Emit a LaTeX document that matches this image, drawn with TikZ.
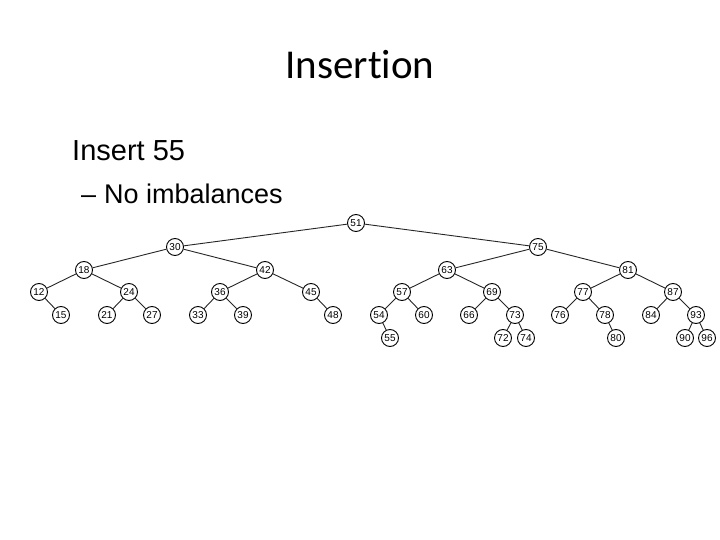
\documentclass[tikz,border=0pt]{standalone}
\usepackage{fontspec}
\setmainfont{Liberation Sans}
\newfontfamily\titlefont[Ligatures=NoCommon]{Carlito}
\begin{document}
\begin{tikzpicture}[x=1pt,y=-1pt,
  tn/.style={circle,draw=black,line width=0.9pt,fill=white,minimum size=17pt,inner sep=0pt,font=\fontsize{10}{10}\selectfont},
  ed/.style={draw=black!85,line width=0.9pt}]
\useasboundingbox[fill=white] (0,0) rectangle (720,540);
\node[anchor=base,font=\titlefont\fontsize{41}{41}\selectfont] (title) at (360,79) {Insertion};
\node[anchor=base west,inner sep=0pt,font=\fontsize{29}{29}\selectfont] (l1) at (72,161) {Insert 55};
\node[anchor=base west,inner sep=0pt,font=\fontsize{27}{27}\selectfont] (l2) at (81,204) {–};
\node[anchor=base west,inner sep=0pt,font=\fontsize{27}{27}\selectfont] (l3) at (104,204) {No imbalances};
% level 0
\node[tn] (n51) at (356,223) {51};
% level 1
\node[tn] (n30) at (175,247) {30};
\node[tn] (n75) at (538,247) {75};
% level 2
\node[tn] (n18) at (84,270) {18};
\node[tn] (n42) at (265,270) {42};
\node[tn] (n63) at (447,270) {63};
\node[tn] (n81) at (628,270) {81};
% level 3
\node[tn] (n12) at (39,292) {12};
\node[tn] (n24) at (129,292) {24};
\node[tn] (n36) at (220,292) {36};
\node[tn] (n45) at (311,292) {45};
\node[tn] (n57) at (402,292) {57};
\node[tn] (n69) at (492,292) {69};
\node[tn] (n77) at (583,292) {77};
\node[tn] (n87) at (673,292) {87};
% level 4
\node[tn] (n15) at (61,315) {15};
\node[tn] (n21) at (107,315) {21};
\node[tn] (n27) at (152,315) {27};
\node[tn] (n33) at (198,315) {33};
\node[tn] (n39) at (243,315) {39};
\node[tn] (n48) at (333,315) {48};
\node[tn] (n54) at (379,315) {54};
\node[tn] (n60) at (424,315) {60};
\node[tn] (n66) at (469,315) {66};
\node[tn] (n73) at (515,315) {73};
\node[tn] (n76) at (560,315) {76};
\node[tn] (n78) at (605,315) {78};
\node[tn] (n84) at (651,315) {84};
\node[tn] (n93) at (696,315) {93};
% level 5
\node[tn] (n55) at (390,338) {55};
\node[tn] (n72) at (503,338) {72};
\node[tn] (n74) at (526,338) {74};
\node[tn] (n80) at (616,338) {80};
\node[tn] (n90) at (685,338) {90};
\node[tn] (n96) at (707,338) {96};
% edges
\foreach \a/\b in {51/30,51/75,30/18,30/42,75/63,75/81,
  18/12,18/24,42/36,42/45,63/57,63/69,81/77,81/87,
  12/15,24/21,24/27,36/33,36/39,45/48,57/54,57/60,69/66,69/73,
  77/76,77/78,87/84,87/93,54/55,73/72,73/74,78/80,93/90,93/96}
  \draw[ed] (n\a) -- (n\b);
\end{tikzpicture}
\end{document}
